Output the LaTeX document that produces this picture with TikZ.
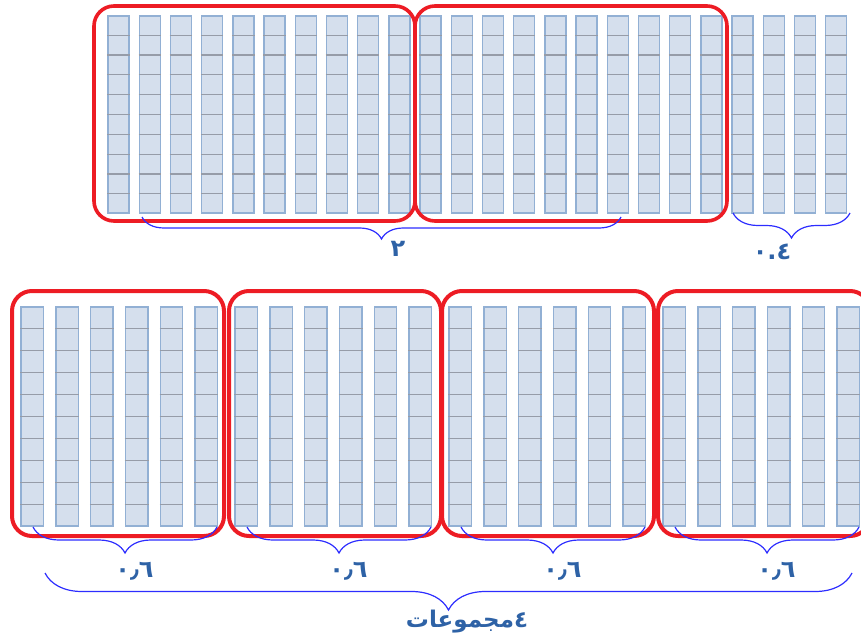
\documentclass[tikz,border=0pt]{standalone}
\usepackage{fontspec}
\usepackage{xcolor}
\usepackage{tikz}
\usetikzlibrary{positioning, calc, decorations.pathreplacing}
\TeXXeTstate=1
\newfontfamily\arabicfont[Script=Arabic]{DejaVu Sans}
\definecolor{stripfill}{RGB}{213, 223, 237}
\definecolor{stripedge}{RGB}{146, 176, 212}
\definecolor{celldiv}{RGB}{150, 156, 168}
\definecolor{groupred}{RGB}{237, 28, 36}
\definecolor{braceblue}{RGB}{45, 45, 255}
\definecolor{labelblue}{RGB}{46, 98, 166}

\begin{document}
\begin{tikzpicture}[x=1pt, y=-1pt,
    topstrip/.style={rectangle, draw=stripedge, fill=stripfill, line width=1.4pt, minimum width=21pt, minimum height=197pt, inner sep=0pt},
    botstrip/.style={rectangle, draw=stripedge, fill=stripfill, line width=1.4pt, minimum width=22.5pt, minimum height=219pt, inner sep=0pt},
    groupbox/.style={rectangle, draw=groupred, line width=3.6pt, rounded corners=20pt, inner sep=0pt},
    curly/.style={draw=braceblue, line width=1.2pt, decorate, decoration={brace, mirror, amplitude=#1}},
    numlabel/.style={text=labelblue, font=\arabicfont\bfseries\fontsize{24}{24}\selectfont, inner sep=0pt}]
    \useasboundingbox (0,0) rectangle (861,639);

    % top row: 24 strips of ten
    \foreach \i in {1,...,24} {
        \pgfmathsetmacro{\sx}{108 + 31.2*(\i-1) + 10.5}
        \node [topstrip] (t\i) at (\sx, 114.5) {};
        \foreach \k in {1,...,9}
            \draw [celldiv, line width=1.2pt] ($(t\i.north west)!\k/10!(t\i.south west)$) -- ($(t\i.north east)!\k/10!(t\i.south east)$);
    }

    % bottom row: 4 groups of 6 strips
    \foreach \g in {0,...,3} {
        \foreach \j in {1,...,6} {
            \pgfmathsetmacro{\sx}{21 + 214*\g + 34.8*(\j-1) + 11.25}
            \pgfmathtruncatemacro{\n}{6*\g + \j}
            \node [botstrip] (b\n) at (\sx, 416.5) {};
            \foreach \k in {1,...,9}
                \draw [celldiv, line width=1.2pt] ($(b\n.north west)!\k/10!(b\n.south west)$) -- ($(b\n.north east)!\k/10!(b\n.south east)$);
        }
    }

    % red group frames
    \node [groupbox, minimum width=321pt, minimum height=215pt] (tbox1) at (254.5, 113.5) {};
    \node [groupbox, minimum width=312pt, minimum height=215pt] (tbox2) at (571, 113.5) {};
    \foreach \g/\cx in {1/118, 2/335, 3/548, 4/764}
        \node [groupbox, line width=4pt, minimum width=212pt, minimum height=245pt] (bbox\g) at (\cx, 413.5) {};

    % braces and labels, top row
    \coordinate (twoL) at (142, 217);
    \coordinate (twoR) at (621, 217);
    \draw [curly=22pt] (twoL) -- (twoR);
    \node [numlabel] (two) at (398, 249) {٢};

    \coordinate (restL) at (733, 213);
    \coordinate (restR) at (850, 213);
    \draw [curly=25pt] (restL) -- (restR);
    \node [numlabel] (rest) at (772, 252) {٠.٤};

    % braces and labels, bottom row
    \foreach \g in {0,...,3} {
        \pgfmathsetmacro{\s}{21 + 214*\g}
        \coordinate (gl\g) at (\s+12, 527);
        \coordinate (gr\g) at (\s+196, 527);
        \draw [curly=26pt] (gl\g) -- (gr\g);
        \node [numlabel] (part\g) at (\s+113.5, 571) {٠٫٦};
    }

    \coordinate (allL) at (45, 573);
    \coordinate (allR) at (852, 573);
    \draw [curly=37pt] (allL) -- (allR);
    \node [numlabel, font=\arabicfont\bfseries\fontsize{23}{23}\selectfont] (groups) at (467, 622) {\beginR ٤مجموعات\endR};
\end{tikzpicture}
\end{document}
